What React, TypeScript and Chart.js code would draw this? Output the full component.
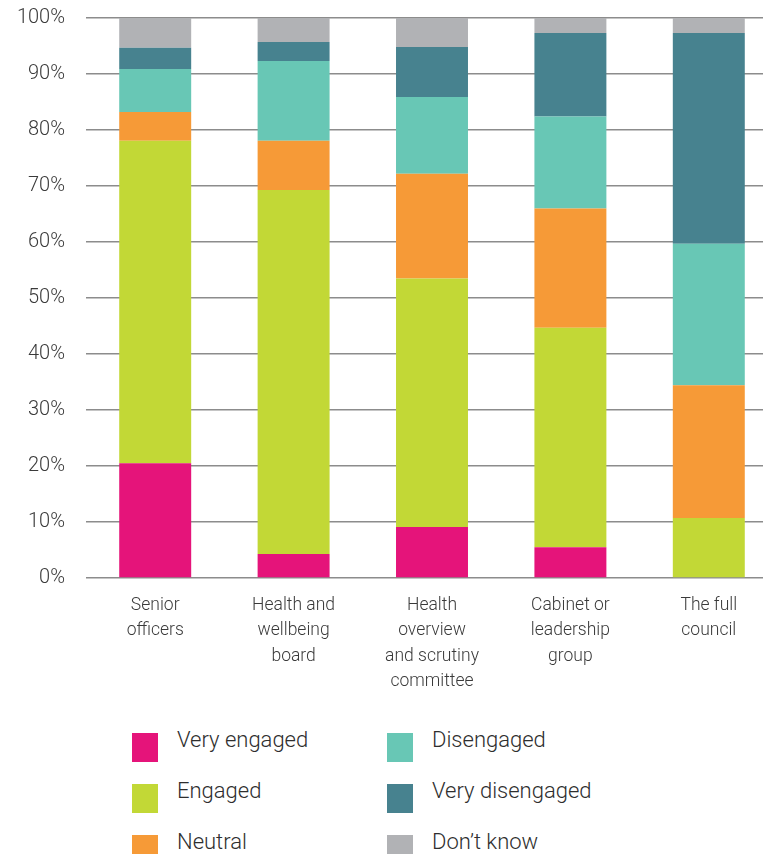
import React, { useEffect, useRef } from "react";
import { Chart, registerables } from "chart.js";

Chart.register(...registerables);

const categories: string[][] = [
  ["Senior", "officers"],
  ["Health and", "wellbeing", "board"],
  ["Health", "overview", "and scrutiny", "committee"],
  ["Cabinet or", "leadership", "group"],
  ["The full", "council"],
];

const seriesNames = ["Very engaged", "Engaged", "Neutral", "Disengaged", "Very disengaged", "Don\u2019t know"];
const seriesColors = ["#E5147A", "#C2D836", "#F69A37", "#68C7B5", "#47828F", "#B1B2B5"];

const veryEngaged = [20.5, 4.3, 9.1, 5.5, 0];
const engaged = [57.6, 65.0, 44.4, 39.2, 10.7];
const neutral = [5.1, 8.8, 18.7, 21.3, 23.7];
const disengaged = [7.7, 14.2, 13.7, 16.4, 25.3];
const veryDisengaged = [3.8, 3.4, 8.9, 14.9, 37.6];
const dontKnow = [5.3, 4.3, 5.2, 2.7, 2.7];

const seriesValues = [veryEngaged, engaged, neutral, disengaged, veryDisengaged, dontKnow];
const yTicks = [0, 10, 20, 30, 40, 50, 60, 70, 80, 90, 100];

const FONT = "Roboto, 'Helvetica Neue', Arial, sans-serif";
const SHIFT = 15;

export default function App() {
  const ref = useRef<HTMLCanvasElement | null>(null);

  useEffect(() => {
    if (!ref.current) return;
    const chart = new Chart(ref.current, {
      type: "bar",
      data: {
        labels: categories,
        datasets: seriesNames.map((name, i) => ({
          label: name,
          data: seriesValues[i],
          backgroundColor: seriesColors[i],
          borderWidth: 0,
          barPercentage: 0.52,
          categoryPercentage: 1,
        })),
      },
      options: {
        animation: false,
        responsive: false,
        maintainAspectRatio: false,
        layout: { padding: { top: 2, left: 0, right: 0, bottom: 0 } },
        plugins: {
          legend: { display: false },
          tooltip: { enabled: false },
        },
        scales: {
          x: {
            stacked: true,
            grid: { display: false, drawTicks: false },
            border: { display: false },
            ticks: {
              padding: 15,
              color: "#3a3a3a",
              font: { family: FONT, size: 17.5, weight: "300", lineHeight: 1.45 },
              maxRotation: 0,
              autoSkip: false,
            },
            afterFit: (scale: any) => {
              scale.height = 705 - (578 + SHIFT);
            },
          },
          y: {
            stacked: true,
            min: 0,
            max: 100,
            afterBuildTicks: (scale: any) => {
              scale.ticks = yTicks.map((v) => ({ value: v }));
            },
            grid: { color: "#8c8c8c", lineWidth: 1.5, drawTicks: false },
            border: { display: false },
            ticks: {
              padding: 21,
              color: "#3a3a3a",
              font: { family: FONT, size: 20, weight: "300" },
              callback: (v: any) => v + "%",
            },
            afterFit: (scale: any) => {
              scale.width = 86;
            },
          },
        },
      },
    });
    return () => chart.destroy();
  }, []);

  const legendItem = (i: number) => (
    <div key={i} style={{ display: "flex", alignItems: "flex-start", height: 51 }}>
      <div
        style={{
          width: 26,
          height: 29,
          background: seriesColors[i],
          marginTop: 2,
          marginRight: 19,
          flexShrink: 0,
        }}
      />
      <div
        style={{
          fontFamily: FONT,
          fontWeight: 300,
          fontSize: 22,
          lineHeight: "26px",
          color: "#2e2e2e",
          marginTop: -4,
        }}
      >
        {seriesNames[i]}
      </div>
    </div>
  );

  return (
    <div style={{ margin: -8, width: 771, height: 862, position: "relative", overflow: "hidden", background: "#fff" }}>
      <canvas
        ref={ref}
        width={778}
        height={705}
        style={{ display: "block", width: 778, height: 705, position: "absolute", left: 0, top: -SHIFT }}
      />
      <div style={{ position: "absolute", left: 132, top: 731 }}>
        {[0, 1, 2].map(legendItem)}
      </div>
      <div style={{ position: "absolute", left: 387, top: 731 }}>
        {[3, 4, 5].map(legendItem)}
      </div>
    </div>
  );
}
